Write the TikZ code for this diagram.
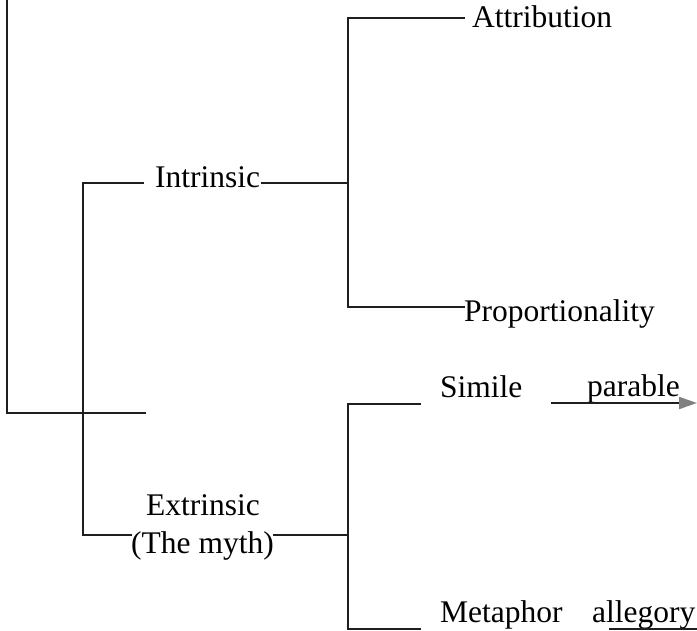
\documentclass[tikz,border=0pt]{standalone}
\usepackage{fontspec}
\setmainfont{Liberation Serif}
\usetikzlibrary{arrows.meta}
\begin{document}
\begin{tikzpicture}[x=1pt,y=-1pt,
  ln/.style={line width=2.2pt,draw=black!88,line cap=rect},
  lbl/.style={inner sep=0pt,anchor=base west,font=\fontsize{31.5}{36}\selectfont,text=black},
  arr/.style={ln,-{Triangle[length=18pt,width=12pt,color=black!50]}}]
\useasboundingbox (0,0) rectangle (697,631);
% labels
\node[lbl] (attr) at (472,28) {Attribution};
\node[lbl] (prop) at (464,322) {Proportionality};
\node[lbl] (intr) at (155,188) {Intrinsic};
\node[lbl] (extr) at (146,515) {Extrinsic};
\node[lbl] (myth) at (131,553) {(The myth)};
\node[lbl] (sim) at (440,398) {Simile};
\node[lbl] (par) at (587,397) {parable};
\node[lbl] (met) at (440,622) {Metaphor};
\node[lbl] (all) at (592,622) {allegory};
% coordinates
\coordinate (otop) at (7,0);
\coordinate (obot) at (7,413);
\coordinate (oend) at (145,413);
\coordinate (itop) at (83,183);
\coordinate (ibot) at (83,535);
\coordinate (rtop) at (348,18);
\coordinate (rmid) at (348,183);
\coordinate (rbot) at (348,307);
\coordinate (etop) at (348,404);
\coordinate (emid) at (348,535);
\coordinate (ebot) at (348,629);
\coordinate (pstart) at (552,403);
\coordinate (pend) at (697,403);
\coordinate (astart) at (610,629);
\coordinate (aend) at (697,629);
% outer bracket
\draw[ln] (otop) -- (obot) -- (oend);
% intrinsic / extrinsic bracket
\draw[ln] (143,183) -- (itop) -- (ibot) -- (ibot -| myth.west);
\draw[ln] (intr.east |- rmid) ++(2,0) -- (rmid);
\draw[ln] (myth.east |- emid) -- (emid);
% attribution / proportionality bracket
\draw[ln] (attr.west |- rtop) ++(-8,0) -- (rtop) -- (rbot) -- (prop.west |- rbot);
% simile / metaphor bracket
\draw[ln] (420,404) -- (etop) -- (ebot) -- (420,629);
% arrows
\draw[arr] (pstart) -- (pend);
\draw[ln] (astart) -- (aend);
\end{tikzpicture}
\end{document}
